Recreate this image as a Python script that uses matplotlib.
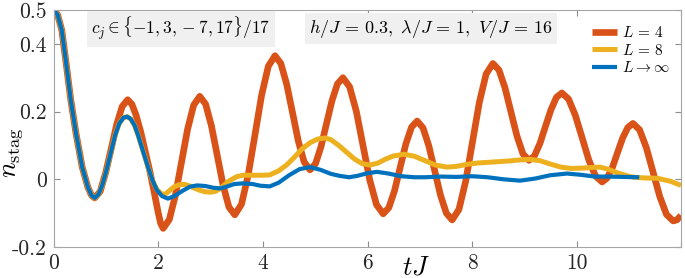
import numpy as np
import matplotlib.pyplot as plt

plt.rcParams['mathtext.fontset'] = 'cm'
plt.rcParams['font.family'] = 'cmr10'
plt.rcParams['axes.unicode_minus'] = False

# shared start of all three curves
t_start = [0.0, 0.07, 0.15, 0.24, 0.32, 0.42, 0.54, 0.65, 0.72, 0.78]
n_start = [0.5, 0.486, 0.44, 0.334, 0.236, 0.137, 0.036, -0.024, -0.048, -0.055]

# L = 4
t_L4 = t_start + [0.885, 0.99, 1.095, 1.2, 1.305, 1.41,
                  1.49, 1.57, 1.66, 1.75, 1.84, 1.92, 1.99, 2.04, 2.09,
                  2.207, 2.323, 2.44, 2.557, 2.673, 2.79,
                  2.902, 3.013, 3.125, 3.237, 3.348, 3.46,
                  3.588, 3.717, 3.845, 3.973, 4.102, 4.23,
                  4.342, 4.453, 4.565, 4.677, 4.788, 4.9,
                  5.005, 5.11, 5.215, 5.32, 5.425, 5.53,
                  5.658, 5.787, 5.915, 6.043, 6.172, 6.3,
                  6.408, 6.517, 6.625, 6.733, 6.842, 6.95,
                  7.062, 7.173, 7.285, 7.397, 7.508, 7.62,
                  7.75, 7.88, 8.01, 8.14, 8.27, 8.4,
                  8.515, 8.63, 8.745, 8.86, 8.975, 9.09,
                  9.195, 9.3, 9.405, 9.51, 9.615, 9.72,
                  9.848, 9.977, 10.105, 10.233, 10.362, 10.49,
                  10.588, 10.687, 10.785, 10.883, 10.982, 11.08,
                  11.208, 11.337, 11.465, 11.593, 11.722, 11.85,
                  11.92, 12.0]
n_L4 = n_start + [-0.036, 0.02, 0.09, 0.162, 0.215, 0.235,
                  0.222, 0.19, 0.14, 0.08, 0.02, -0.04, -0.095, -0.13, -0.145,
                  -0.119, -0.048, 0.05, 0.148, 0.219, 0.245,
                  0.222, 0.158, 0.07, -0.018, -0.082, -0.105,
                  -0.074, 0.013, 0.13, 0.248, 0.334, 0.365,
                  0.342, 0.281, 0.197, 0.112, 0.051, 0.028,
                  0.046, 0.096, 0.164, 0.232, 0.282, 0.3,
                  0.273, 0.2, 0.099, -0.002, -0.075, -0.102,
                  -0.084, -0.034, 0.035, 0.104, 0.154, 0.172,
                  0.152, 0.099, 0.026, -0.047, -0.1, -0.12,
                  -0.089, -0.005, 0.111, 0.227, 0.311, 0.342,
                  0.323, 0.271, 0.199, 0.128, 0.075, 0.056,
                  0.069, 0.106, 0.156, 0.205, 0.242, 0.255,
                  0.237, 0.189, 0.124, 0.058, 0.01, -0.008,
                  0.004, 0.035, 0.079, 0.122, 0.153, 0.165,
                  0.146, 0.093, 0.021, -0.051, -0.104, -0.123,
                  -0.12, -0.107]

# L = 8
t_L8 = t_start + [0.85, 0.93, 1.01, 1.09, 1.17, 1.25, 1.33, 1.4, 1.47, 1.54,
                  1.61, 1.7, 1.8, 1.89, 1.97, 2.05, 2.12, 2.2, 2.3, 2.4, 2.5,
                  2.6, 2.7, 2.8, 2.9, 3.0, 3.1, 3.2, 3.35, 3.5, 3.62, 3.8, 4.0,
                  4.13, 4.3, 4.45, 4.6, 4.75, 4.9, 5.05, 5.19, 5.3, 5.45, 5.6,
                  5.75, 5.9, 6.05, 6.2, 6.35, 6.5, 6.7, 6.9, 7.1, 7.3, 7.52,
                  7.7, 7.9, 8.1, 8.3, 8.5, 8.7, 8.9, 9.1, 9.3, 9.5, 9.7, 9.9,
                  10.1, 10.3, 10.45, 10.6, 10.8, 11.0, 11.1, 11.3, 11.55,
                  11.8, 12.0]
n_L8 = n_start + [-0.045, -0.015, 0.03, 0.08, 0.13, 0.165, 0.182, 0.185,
                  0.178, 0.16, 0.13, 0.085, 0.036, -0.005, -0.03, -0.042,
                  -0.045, -0.035, -0.022, -0.016, -0.015, -0.02, -0.027,
                  -0.033, -0.037, -0.038, -0.035, -0.025, -0.005, 0.008,
                  0.012, 0.012, 0.012, 0.013, 0.025, 0.042, 0.065, 0.09,
                  0.108, 0.119, 0.122, 0.117, 0.1, 0.08, 0.06, 0.046, 0.042,
                  0.048, 0.06, 0.069, 0.074, 0.068, 0.055, 0.042, 0.036,
                  0.038, 0.044, 0.048, 0.05, 0.052, 0.054, 0.057, 0.059,
                  0.055, 0.045, 0.036, 0.032, 0.033, 0.035, 0.036, 0.03,
                  0.018, 0.009, 0.006, 0.004, 0.003, -0.006, -0.018]

# L -> infinity
t_inf = t_start + [0.85, 0.93, 1.01, 1.09, 1.17, 1.25, 1.33, 1.4, 1.47, 1.54,
                   1.61, 1.7, 1.8, 1.89, 1.97, 2.07, 2.18, 2.3, 2.45, 2.6,
                   2.74, 2.9, 3.05, 3.18, 3.3, 3.45, 3.62, 3.8, 3.95, 4.13,
                   4.3, 4.5, 4.7, 4.9, 5.1, 5.3, 5.47, 5.65, 5.8, 6.0, 6.18,
                   6.4, 6.65, 6.9, 7.1, 7.4, 7.7, 8.0, 8.3, 8.6, 8.92, 9.2,
                   9.5, 9.82, 10.1, 10.35, 10.6, 10.9, 11.2]
n_inf = n_start + [-0.045, -0.015, 0.03, 0.08, 0.13, 0.165, 0.182, 0.185,
                   0.178, 0.16, 0.13, 0.085, 0.036, -0.005, -0.032, -0.05,
                   -0.057, -0.05, -0.035, -0.022, -0.018, -0.02, -0.025,
                   -0.027, -0.022, -0.014, -0.012, -0.014, -0.019, -0.021,
                   -0.01, 0.012, 0.03, 0.036, 0.028, 0.016, 0.01, 0.006, 0.01,
                   0.018, 0.022, 0.017, 0.009, 0.006, 0.006, 0.008, 0.007,
                   0.009, 0.006, 0.0, -0.004, 0.002, 0.012, 0.017, 0.013,
                   0.008, 0.008, 0.007, 0.006]

xticks = [0, 2, 4, 6, 8, 10, 12]
xticklabels = ['0', '2', '4', '6', '8', '10', '']
yticks = [-0.2, 0, 0.2, 0.4, 0.5]
yticklabels = ['-0.2', '0', '0.2', '0.4', '0.5']

fig = plt.figure(figsize=(6.85, 2.78), dpi=100)
ax = fig.add_axes([0.0788, 0.1115, 0.9154, 0.8525])

ax.plot(t_L4, n_L4, color='#D95319', lw=4.8, label=r'$L\,=\,4$', solid_capstyle='butt')
ax.plot(t_L8, n_L8, color='#EDB120', lw=3.6, label=r'$L\,=\,8$', solid_capstyle='butt')
ax.plot(t_inf, n_inf, color='#0072BD', lw=3.0, label=r'$L\rightarrow\infty$', solid_capstyle='butt')

ax.set_xlim(0, 12)
ax.set_ylim(-0.2, 0.5)
ax.set_xticks(xticks)
ax.set_xticklabels(xticklabels, fontsize=15.5)
ax.set_yticks(yticks)
ax.set_yticklabels(yticklabels, fontsize=15.5)
ax.tick_params(direction='in', top=True, right=True, length=4, width=0.8,
               color='0.55', labelcolor='#262626', pad=5)
for s in ax.spines.values():
    s.set_color('0.65')
    s.set_linewidth(0.8)

ax.set_ylabel(r'$n_{\rm stag}$', fontsize=19)
ax.yaxis.set_label_coords(-0.046, 0.397)
ax.text(0.577, -0.035, r'$tJ$', transform=ax.transAxes, ha='center', va='top',
        fontsize=19)

box = dict(facecolor='#f0f0f0', edgecolor='none', pad=3)
ax.text(2.43, 0.445, r'$c_j \in \{-1, 3, -7, 17\}/17$', ha='center',
        va='center', fontsize=12.5, bbox=box)
ax.text(7.21, 0.445, r'$h/J\,=\,0.3,\ \lambda/J\,=\,1,\ V/J\,=\,16$',
        ha='center', va='center', fontsize=13, bbox=box)

ax.legend(loc='upper left', bbox_to_anchor=(0.858, 0.935), frameon=False,
          fontsize=11, handlelength=1.65, handletextpad=0.3,
          labelspacing=0.15, borderaxespad=0, borderpad=0)

fig.savefig('out.png', dpi=100)
